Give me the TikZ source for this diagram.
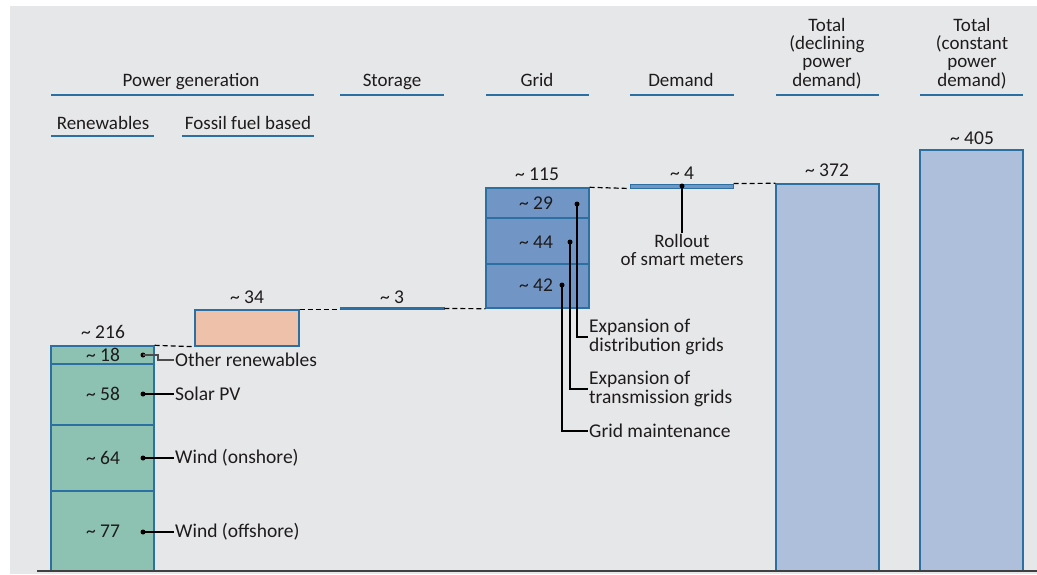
\documentclass[tikz,border=0pt]{standalone}
\usepackage{fontspec}
\setmainfont{Carlito}
\definecolor{bg}{HTML}{E6E7E9}
\definecolor{edge}{HTML}{2B6FA3}
\definecolor{renew}{HTML}{8DC1B1}
\definecolor{fossil}{HTML}{EEC1AA}
\definecolor{gridc}{HTML}{7196C5}
\definecolor{totc}{HTML}{ADBFDB}
\definecolor{txt}{HTML}{1E1B1C}
\begin{document}
\begin{tikzpicture}[x=1pt,y=-1pt,
  every node/.style={text=txt,font=\fontsize{19.5}{19}\selectfont},
  bar/.style={draw=edge,line width=1.4pt,inner sep=0pt,minimum width=103pt},
  hdr/.style={align=center,inner sep=0pt,font=\fontsize{19}{18.3}\selectfont},
  hdrb/.style={hdr,anchor=base},
  uline/.style={draw=edge,line width=1.6pt},
  dotc/.style={circle,fill=black,inner sep=0pt,minimum size=5pt},
  conn/.style={draw=black,line width=1.3pt},
  dashlink/.style={draw=black,line width=1.2pt,dash pattern=on 5pt off 3pt},
  lbl/.style={anchor=west,inner sep=1pt,align=left}]
\useasboundingbox (0,0) rectangle (1037,574);
\fill[white] (0,0) rectangle (1037,574);
\fill[bg] (10,6) rectangle (1037,574);

% headers
\node[hdrb] (hpg) at (191,86) {Power generation};
\draw[uline] (51,95) -- (314,95);
\node[hdrb] (hren) at (103,129) {Renewables};
\draw[uline] (51,136) -- (154,136);
\node[hdrb] (hfos) at (248,129) {Fossil fuel based};
\draw[uline] (182,136) -- (314,136);
\node[hdrb] (hsto) at (392,86) {Storage};
\draw[uline] (340,95) -- (444,95);
\node[hdrb] (hgrid) at (537,86) {Grid};
\draw[uline] (486,95) -- (589,95);
\node[hdrb] (hdem) at (681,86) {Demand};
\draw[uline] (630,95) -- (734,95);
\node[hdr] (htot1) at (827,53.5) {Total\\(declining\\power\\demand)};
\draw[uline] (776,95) -- (879,95);
\node[hdr] (htot2) at (972,53.5) {Total\\(constant\\power\\demand)};
\draw[uline] (920,95) -- (1023,95);

% bars
\node[bar,fill=renew,minimum height=80pt] (r77) at (102.5,531) {};
\node[bar,fill=renew,minimum height=66pt] (r64) at (102.5,458) {};
\node[bar,fill=renew,minimum height=61pt] (r58) at (102.5,394.5) {};
\node[bar,fill=renew,minimum height=18pt] (r18) at (102.5,355) {};
\node[bar,fill=fossil,minimum height=36pt,minimum width=104pt] (fos) at (247,328) {};
\node[bar,fill=edge,line width=0.6pt,minimum height=2.4pt,minimum width=104pt] (sto) at (392,308.5) {};
\node[bar,fill=gridc,minimum height=44pt] (g42) at (537.5,286) {};
\node[bar,fill=gridc,minimum height=46pt] (g44) at (537.5,241) {};
\node[bar,fill=gridc,minimum height=30pt] (g29) at (537.5,203) {};
\node[bar,fill=gridc,line width=1pt,minimum height=4pt] (dem) at (681.5,186) {};
\node[bar,fill=totc,minimum height=387pt] (tot1) at (827.5,377.5) {};
\node[bar,fill=totc,minimum height=421pt] (tot2) at (971.5,360.5) {};

% axis
\coordinate (axL) at (37,571);
\coordinate (axR) at (1037,571);
\draw[line width=2pt,black!75] (axL) -- (axR);

% dashed links
\draw[dashlink] (r18.north east) -- (fos.south west);
\draw[dashlink] (fos.north east) -- (fos.north east -| sto.west);
\draw[dashlink] (sto.east) -- (g42.south west);
\draw[dashlink] (g29.north east) -- (dem.south west);
\draw[dashlink] (dem.north east) -- (tot1.north west);

% values
\node (v216) at (103,332) {\textasciitilde\ 216};
\node (v18) at (103,355) {\textasciitilde\ 18};
\node (v58) at (103,394) {\textasciitilde\ 58};
\node (v64) at (103,458) {\textasciitilde\ 64};
\node (v77) at (103,531) {\textasciitilde\ 77};
\node (v34) at (247,297) {\textasciitilde\ 34};
\node (v3) at (392,297) {\textasciitilde\ 3};
\node (v115) at (537,174) {\textasciitilde\ 115};
\node (v29) at (536,203) {\textasciitilde\ 29};
\node (v44) at (536,242) {\textasciitilde\ 44};
\node (v42) at (536,285) {\textasciitilde\ 42};
\node (v4) at (682,173) {\textasciitilde\ 4};
\node (v372) at (827,170) {\textasciitilde\ 372};
\node (v405) at (972,138) {\textasciitilde\ 405};

% renewables labels
\node[dotc] (d18) at (143,355) {};
\node[dotc] (d58) at (143,394) {};
\node[dotc] (d64) at (143,458) {};
\node[dotc] (d77) at (143,532) {};
\node[lbl] (lo) at (174,360) {Other renewables};
\node[lbl] (ls) at (174,394) {Solar PV};
\node[lbl] (lon) at (174,458) {Wind (onshore)};
\node[lbl] (loff) at (174,532) {Wind (offshore)};
\draw[conn,black!70] (d18.center) -- ++(15,0) |- (lo.west);
\draw[conn] (d58.center) -- (ls.west);
\draw[conn] (d64.center) -- (lon.west);
\draw[conn] (d77.center) -- (loff.west);

% grid labels
\node[dotc] (d29) at (577,204) {};
\node[dotc] (d44) at (570,242) {};
\node[dotc] (d42) at (562,285) {};
\node[lbl] (ed) at (588,337) {Expansion of\\distribution grids};
\node[lbl] (et) at (588,389) {Expansion of\\transmission grids};
\node[lbl] (gm) at (588,431) {Grid maintenance};
\draw[conn] (d29.center) |- (ed.west);
\draw[conn] (d44.center) |- (et.west);
\draw[conn] (d42.center) |- (gm.west);

% demand label
\node[dotc] (dd) at (682,186) {};
\node[align=center,inner sep=1pt,font=\fontsize{19}{18}\selectfont] (ro) at (682,250) {Rollout\\of smart meters};
\draw[conn] (dd.center) -- (ro.north);
\end{tikzpicture}
\end{document}
